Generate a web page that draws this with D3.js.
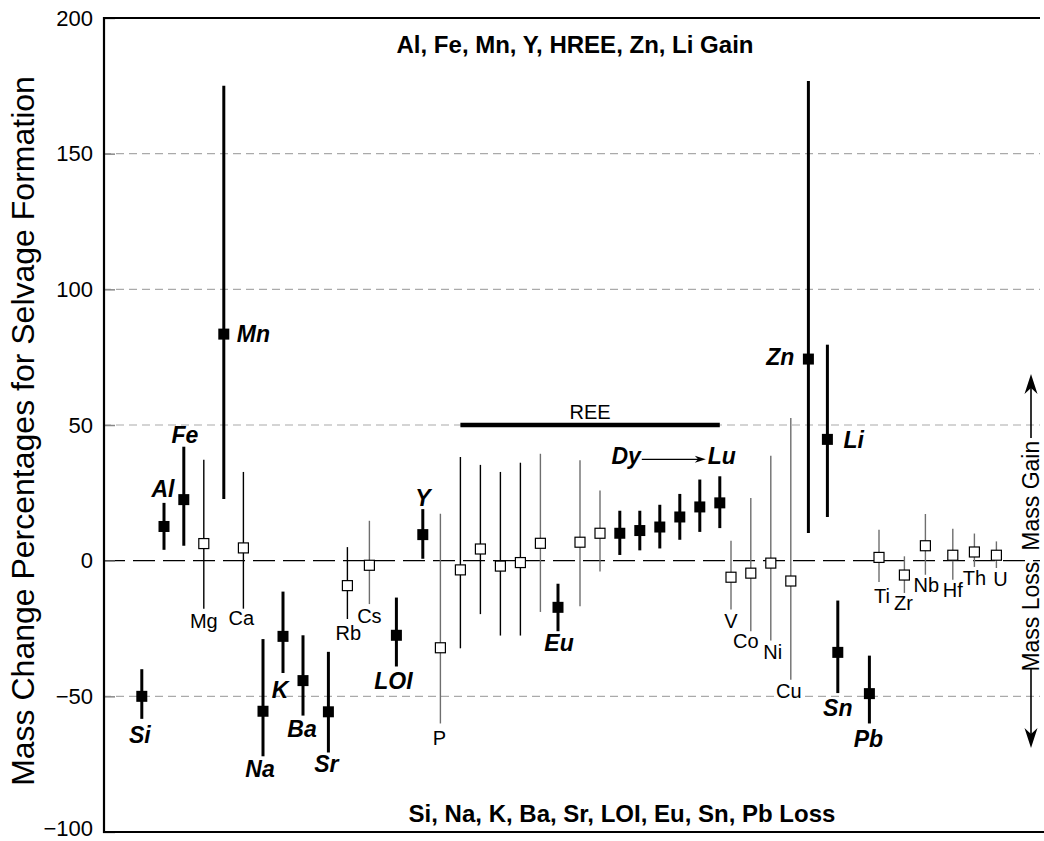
<!DOCTYPE html>
<html>
<head>
<meta charset="utf-8">
<script src="https://cdn.jsdelivr.net/npm/d3@7"></script>
<style>
    body { margin: 0; background: #fff; }
    #chart { width: 1044px; height: 841px; }
    text { font-family: "Liberation Sans", Arial, Helvetica, sans-serif; fill: #000; }
</style>
</head>
<body>
<div id="chart"></div>
<script>

// element order along the x axis and the slot each one sits at
const elements = ["Si", "Al", "Fe", "Mg", "Mn", "Ca", "Na", "K", "Ba", "Sr", "Rb", "Cs", "LOI", "Y", "P",
    "La", "Ce", "Pr", "Nd", "Sm", "Eu", "Gd", "Tb", "Dy", "Ho", "Er", "Tm", "Yb", "Lu",
    "V", "Co", "Ni", "Cu", "Zn", "Li", "Sn", "Pb", "Ti", "Zr", "Nb", "Hf", "Th", "U"];
const positions = [1.94, 3.05, 4.04, 5.04, 6.04, 7.02, 8.0, 9.0, 10.0, 11.27, 12.22, 13.32, 14.67, 15.99, 16.87,
    17.87, 18.87, 19.87, 20.87, 21.87, 22.75, 23.85, 24.85, 25.84, 26.84, 27.84, 28.84, 29.84, 30.84,
    31.4, 32.39, 33.39, 34.39, 35.27, 36.22, 36.74, 38.32, 38.8, 40.07, 41.12, 42.49, 43.57, 44.67];

// mass change (%) with upper and lower ends of the bars
const values = [-50, 12.6, 22.5, 6.3, 83.5, 4.7, -55.5, -27.9, -44.2, -55.7, -9.2, -1.7, -27.5, 9.6, -32.1,
    -3.4, 4.3, -2, -0.7, 6.4, -17.2, 6.8, 10.1, 10.1, 11.1, 12.4, 16.1, 19.8, 21.3,
    -6.1, -4.6, -0.9, -7.5, 74.3, 44.7, -33.8, -49, 1.2, -5.3, 5.5, 2, 3.2, 2];
const highs = [-40, 21.3, 42, 37.2, 175, 32.7, -28.9, -11.4, -27.5, -33.6, 5, 14.7, -13.6, 19, 17.3,
    38.2, 35.3, 32.7, 36.1, 39.4, -8.5, 37, 25.9, 18.4, 18.4, 20.6, 24.6, 29.9, 31.1,
    7.3, 23.1, 38.7, 52.6, 176.8, 79.6, -14.7, -35, 11.4, 1.6, 17.2, 11.8, 10, 7.1];
const lows = [-58.3, 4, 5.5, -17.7, 22.7, -17.7, -72.1, -41.4, -57.1, -70.7, -21.5, -16, -39, 0.7, -60,
    -32.3, -19.7, -27.6, -27.6, -18.9, -26, -16.8, -4, 2.1, 3.8, 4.5, 7.7, 10.6, 12,
    -18, -26, -29.4, -43.9, 10.2, 16.1, -48.8, -60, -7.9, -11.9, -5.2, -7, -2.3, -2.7];

// significant changes (filled squares)
const significant = ["Si", "Al", "Fe", "Mn", "Na", "K", "Ba", "Sr", "LOI", "Y", "Eu",
    "Dy", "Ho", "Er", "Tm", "Yb", "Lu", "Zn", "Li", "Sn", "Pb"];
const grayBars = ["Cs", "P", "Sm", "Gd", "Tb", "V", "Co", "Ni", "Cu", "Ti", "Zr", "Nb", "Hf", "Th", "U"];

const yTicks = [200, 150, 100, 50, 0, -50, -100];
const gridValues = [150, 100, 50, -50];
const reeSpan = ["La", "Lu"];
const reeLevel = 50;

const topNote = "Al, Fe, Mn, Y, HREE, Zn, Li Gain";
const bottomNote = "Si, Na, K, Ba, Sr, LOI, Eu, Sn, Pb Loss";
const yTitle = "Mass Change Percentages for Selvage Formation";

// label anchor: which end of the bar, dx, dy (px)
const labelPlace = {
    Si: ["low", -2, 24], Al: ["high", -1, -6], Fe: ["high", 1, -4], Mn: ["right", 13, 8],
    Mg: ["low", 0, 19], Ca: ["low", -2, 16], Na: ["low", -3, 21], K: ["low", -3, 25],
    Ba: ["low", -1, 21], Sr: ["low", -2, 20], Rb: ["low", 1, 21], Cs: ["low", 0, 19],
    LOI: ["low", -3, 23], Y: ["high", 0, -3], P: ["low", -1, 22], Eu: ["low", 1, 20],
    V: ["low", 0, 18], Co: ["low", -5, 17], Ni: ["low", 2, 19], Cu: ["low", -2, 18],
    Zn: ["left", -14, 6], Li: ["right", 16, 9], Sn: ["low", 0, 23], Pb: ["low", -1, 24],
    Ti: ["low", 3, 21], Zr: ["low", -1, 17], Nb: ["low", 1, 17], Hf: ["low", 0, 17],
    Th: ["low", 0, 18], U: ["low", 4, 18]
};


class makeChart {

    constructor(opts) {
        Object.assign(this, opts);
        this.update();
    }

    update() {
        this._setDimensions();
        this._setScales();
        this.draw();
    }

    _setDimensions() {
        this.width = 1044;
        this.height = 841;
        this.left = 103;
        this.top = 18;
        this.bottom = 832;
        this.right = 1040;
    }

    _setScales() {
        this.xScale = d3.scaleLinear()
            .domain([0, 47])
            .range([this.left, this.left + 47 * 20]);

        this.yScale = d3.scaleLinear()
            .domain([-100, 200])
            .range([this.bottom, this.top]);
    }

    // filled arrow head, tip at (tx, ty), pointing along (ux, uy)
    _arrowHead(tx, ty, ux, uy, len, half) {
        const bx = tx - ux * len, by = ty - uy * len;
        const nx = -uy, ny = ux;
        const mx = tx - ux * len * 0.7, my = ty - uy * len * 0.7;
        this.svg.append("path")
            .attr("d", `M${tx},${ty}L${bx + nx * half},${by + ny * half}L${mx},${my}L${bx - nx * half},${by - ny * half}Z`)
            .attr("fill", "#000");
    }

    draw() {
        const x = this.xScale, y = this.yScale;
        this.element.innerHTML = "";

        this.svg = d3.select(this.element).append("svg")
            .attr("width", this.width)
            .attr("height", this.height);

        // gridlines
        this.svg.append("g").selectAll("line")
            .data(gridValues)
            .join("line")
            .attr("x1", this.left).attr("x2", this.right)
            .attr("y1", d => y(d)).attr("y2", d => y(d))
            .attr("stroke", "#aaa")
            .attr("stroke-width", 1.2)
            .attr("stroke-dasharray", "8,5");

        // zero line
        this.svg.append("line")
            .attr("x1", this.left).attr("x2", this.right)
            .attr("y1", y(0)).attr("y2", y(0))
            .attr("stroke", "#000")
            .attr("stroke-width", 1.3)
            .attr("stroke-dasharray", "22,8");

        // y axis
        const yAxis = d3.axisLeft(y)
            .tickValues(yTicks)
            .tickSize(-12)
            .tickPadding(10);

        const ax = this.svg.append("g")
            .attr("transform", `translate(${this.left},0)`)
            .call(yAxis);
        ax.select(".domain").remove();
        ax.selectAll(".tick line").attr("stroke", "#888").attr("stroke-width", 1.5);
        ax.selectAll(".tick text")
            .attr("font-size", 22)
            .attr("font-family", "Liberation Sans, Arial, sans-serif")
            .attr("fill", "#000")
            .attr("dy", d => d === -100 ? "0.15em" : "0.32em");

        // frame
        this.svg.append("path")
            .attr("d", `M${this.right},${this.top}H${this.left + 1}V${this.bottom}H${this.width}`)
            .attr("fill", "none")
            .attr("stroke", "#000")
            .attr("stroke-width", 2.2);

        // REE bracket
        const reeX1 = x(positions[elements.indexOf(reeSpan[0])]);
        const reeX2 = x(positions[elements.indexOf(reeSpan[1])]);
        this.svg.append("line")
            .attr("x1", reeX1).attr("x2", reeX2)
            .attr("y1", y(reeLevel)).attr("y2", y(reeLevel))
            .attr("stroke", "#000")
            .attr("stroke-width", 4.5);
        this.svg.append("text")
            .attr("x", (reeX1 + reeX2) / 2)
            .attr("y", y(reeLevel) - 6)
            .attr("text-anchor", "middle")
            .attr("font-size", 20)
            .text("REE");

        const rows = elements.map((name, i) => ({
            name,
            pos: positions[i],
            value: values[i],
            high: highs[i],
            low: lows[i],
            filled: significant.includes(name),
            gray: grayBars.includes(name)
        }));

        // error bars
        this.svg.append("g").selectAll("line")
            .data(rows)
            .join("line")
            .attr("x1", d => x(d.pos)).attr("x2", d => x(d.pos))
            .attr("y1", d => y(d.high)).attr("y2", d => y(d.low))
            .attr("stroke", d => d.gray ? "#6e6e6e" : "#000")
            .attr("stroke-width", d => d.filled ? 3 : 1.4);

        // squares
        this.svg.append("g").selectAll("rect")
            .data(rows)
            .join("rect")
            .attr("x", d => x(d.pos) - (d.filled ? 5.5 : 5))
            .attr("y", d => y(d.value) - (d.filled ? 5.5 : 5))
            .attr("width", d => d.filled ? 11 : 10)
            .attr("height", d => d.filled ? 11 : 10)
            .attr("fill", d => d.filled ? "#000" : "#fff")
            .attr("stroke", "#000")
            .attr("stroke-width", d => d.filled ? 0 : 1.2);

        // element labels
        const labelled = rows.filter(d => labelPlace[d.name]);
        this.svg.append("g").selectAll("text")
            .data(labelled)
            .join("text")
            .attr("x", d => x(d.pos) + labelPlace[d.name][1])
            .attr("y", d => {
                const p = labelPlace[d.name];
                const base = p[0] === "low" ? d.low : p[0] === "high" ? d.high : d.value;
                return y(base) + p[2];
            })
            .attr("text-anchor", d => {
                const p = labelPlace[d.name][0];
                return p === "right" ? "start" : p === "left" ? "end" : "middle";
            })
            .attr("font-size", d => d.filled ? 23 : 20)
            .attr("font-weight", d => d.filled ? "bold" : "normal")
            .attr("font-style", d => d.filled ? "italic" : "normal")
            .text(d => d.name);

        // Dy -> Lu
        const dy = rows.find(d => d.name === "Dy");
        const lu = rows.find(d => d.name === "Lu");
        const hreeBase = y(lu.high) - 12;
        const hree = this.svg.append("g")
            .attr("font-size", 23).attr("font-weight", "bold").attr("font-style", "italic");
        hree.append("text")
            .attr("x", x(dy.pos) + 21).attr("y", hreeBase)
            .attr("text-anchor", "end")
            .text("Dy");
        hree.append("text")
            .attr("x", x(lu.pos) - 12).attr("y", hreeBase)
            .attr("text-anchor", "start")
            .text("Lu");
        const ax1 = x(dy.pos) + 22, ax2 = x(lu.pos) - 14;
        this.svg.append("line")
            .attr("x1", ax1).attr("x2", ax2 - 6)
            .attr("y1", hreeBase - 5).attr("y2", hreeBase - 5)
            .attr("stroke", "#000").attr("stroke-width", 1.3);
        this._arrowHead(ax2, hreeBase - 5, 1, 0, 11, 3.5);

        // notes
        this.svg.append("text")
            .attr("x", 575).attr("y", 53)
            .attr("text-anchor", "middle")
            .attr("font-size", 24).attr("font-weight", "bold")
            .text(topNote);
        this.svg.append("text")
            .attr("x", 622).attr("y", 822)
            .attr("text-anchor", "middle")
            .attr("font-size", 24).attr("font-weight", "bold")
            .text(bottomNote);

        // y title
        this.svg.append("text")
            .attr("transform", `translate(34,431) rotate(-90)`)
            .attr("text-anchor", "middle")
            .attr("font-size", 32)
            .text(yTitle);

        // mass gain / loss at the right
        const side = 1031;
        this.svg.append("text")
            .attr("transform", `translate(${side},${y(0) - 10}) rotate(-90)`)
            .attr("text-anchor", "start")
            .attr("dy", "0.35em")
            .attr("font-size", 23)
            .text("Mass Gain");
        this.svg.append("text")
            .attr("transform", `translate(${side},${y(0) + 1}) rotate(-90)`)
            .attr("text-anchor", "end")
            .attr("dy", "0.35em")
            .attr("font-size", 23)
            .text("Mass Loss");
        this.svg.append("line")
            .attr("x1", side).attr("x2", side)
            .attr("y1", 438).attr("y2", 385)
            .attr("stroke", "#000").attr("stroke-width", 1.6);
        this._arrowHead(side, 374, 0, -1, 20, 6.5);
        this.svg.append("line")
            .attr("x1", side).attr("x2", side)
            .attr("y1", 669).attr("y2", 737)
            .attr("stroke", "#000").attr("stroke-width", 1.6);
        this._arrowHead(side, 748, 0, 1, 20, 6.5);
    }
}

new makeChart({ element: document.getElementById("chart") });

</script>
</body>
</html>
